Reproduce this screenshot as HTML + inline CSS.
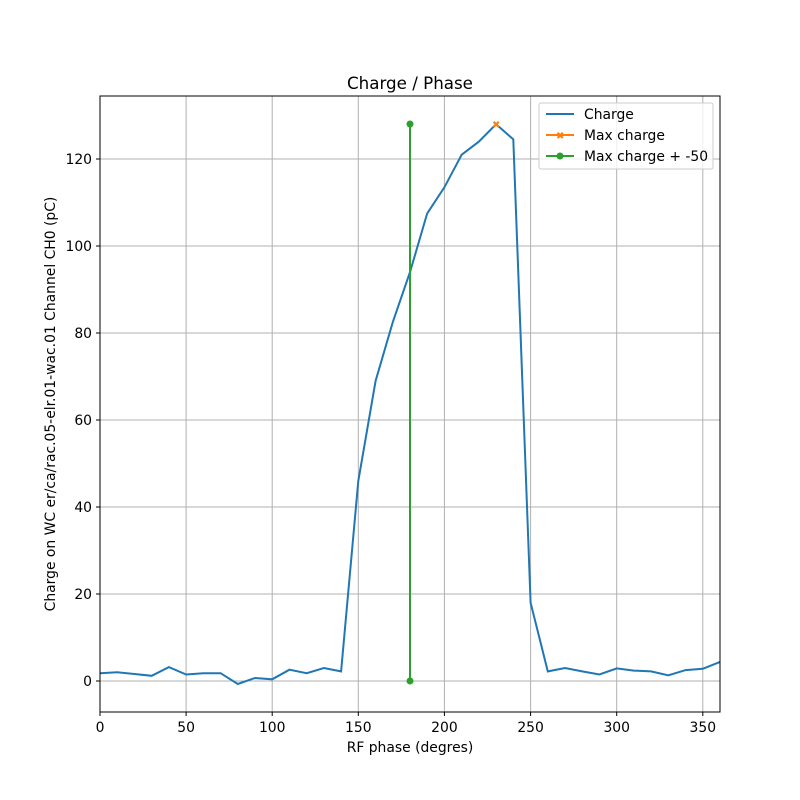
<!DOCTYPE html>
<html><head><meta charset="utf-8"><style>body{margin:0;background:#fff}svg{display:block}text{font-family:"DejaVu Sans","Liberation Sans",sans-serif;fill:#000}</style></head><body>
<svg width="800" height="800" viewBox="0 0 800 800">
<rect width="800" height="800" fill="#fff"/>
<g stroke="#b0b0b0" stroke-width="1">
<line x1="100" y1="96" x2="100" y2="712"/><line x1="186.1" y1="96" x2="186.1" y2="712"/><line x1="272.2" y1="96" x2="272.2" y2="712"/><line x1="358.3" y1="96" x2="358.3" y2="712"/><line x1="444.4" y1="96" x2="444.4" y2="712"/><line x1="530.6" y1="96" x2="530.6" y2="712"/><line x1="616.7" y1="96" x2="616.7" y2="712"/><line x1="702.8" y1="96" x2="702.8" y2="712"/>
<line x1="100" y1="681" x2="720" y2="681"/><line x1="100" y1="594" x2="720" y2="594"/><line x1="100" y1="507" x2="720" y2="507"/><line x1="100" y1="420" x2="720" y2="420"/><line x1="100" y1="333" x2="720" y2="333"/><line x1="100" y1="246" x2="720" y2="246"/><line x1="100" y1="159" x2="720" y2="159"/>
</g>
<polyline fill="none" stroke="#1f77b4" stroke-width="2" points="100,673.2 117.2,672.3 134.4,674 151.7,675.8 168.9,667.1 186.1,674.5 203.3,673.2 220.6,673.2 237.8,684 255,678 272.2,679.3 289.4,669.7 306.7,673.2 323.9,668 341.1,671.4 358.3,480.9 375.6,380.9 392.8,322.1 410,272.1 427.2,213.4 444.4,187.3 461.7,154.7 478.9,141.6 496.1,124.2 513.3,139.4 530.6,602.7 547.8,671.4 565,668 582.2,671.4 599.4,674.5 616.7,668.4 633.9,670.6 651.1,671.4 668.3,675.3 685.6,670.1 702.8,668.8 720,661.9"/>
<text x="492" y="128" font-size="10" style="fill:#ff7f0e">✖</text>
<line x1="410" y1="124" x2="410" y2="681" stroke="#2ca02c" stroke-width="2"/>
<circle cx="410" cy="124" r="3.5" fill="#2ca02c"/><circle cx="410" cy="681" r="3.5" fill="#2ca02c"/>
<rect x="100" y="96" width="620" height="616" fill="none" stroke="#000" stroke-width="1"/>
<g stroke="#000" stroke-width="1">
<line x1="100" y1="712" x2="100" y2="716"/><line x1="186.1" y1="712" x2="186.1" y2="716"/><line x1="272.2" y1="712" x2="272.2" y2="716"/><line x1="358.3" y1="712" x2="358.3" y2="716"/><line x1="444.4" y1="712" x2="444.4" y2="716"/><line x1="530.6" y1="712" x2="530.6" y2="716"/><line x1="616.7" y1="712" x2="616.7" y2="716"/><line x1="702.8" y1="712" x2="702.8" y2="716"/>
<line x1="96" y1="681" x2="100" y2="681"/><line x1="96" y1="594" x2="100" y2="594"/><line x1="96" y1="507" x2="100" y2="507"/><line x1="96" y1="420" x2="100" y2="420"/><line x1="96" y1="333" x2="100" y2="333"/><line x1="96" y1="246" x2="100" y2="246"/><line x1="96" y1="159" x2="100" y2="159"/>
</g>
<g font-size="13.9" text-anchor="middle">
<text x="100" y="732">0</text><text x="186.1" y="732">50</text><text x="272.2" y="732">100</text><text x="358.3" y="732">150</text><text x="444.4" y="732">200</text><text x="530.6" y="732">250</text><text x="616.7" y="732">300</text><text x="702.8" y="732">350</text>
</g>
<g font-size="13.9" text-anchor="end">
<text x="92" y="686">0</text><text x="92" y="599">20</text><text x="92" y="512">40</text><text x="92" y="425">60</text><text x="92" y="338">80</text><text x="92" y="251">100</text><text x="92" y="164">120</text>
</g>
<text x="410" y="752" font-size="13.9" text-anchor="middle">RF phase (degres)</text>
<text transform="translate(55,404) rotate(-90)" font-size="13.9" text-anchor="middle">Charge on WC er/ca/rac.05-elr.01-wac.01 Channel CH0 (pC)</text>
<text x="410" y="89" font-size="16.7" text-anchor="middle">Charge / Phase</text>
<rect x="539" y="103" width="174" height="66" fill="#fff" fill-opacity="0.8" stroke="#ccc" rx="2"/>
<line x1="546" y1="114" x2="574" y2="114" stroke="#1f77b4" stroke-width="2"/>
<text x="584" y="119" font-size="13.9">Charge</text>
<line x1="546" y1="135" x2="574" y2="135" stroke="#ff7f0e" stroke-width="2"/>
<text x="556" y="139" font-size="10" style="fill:#ff7f0e">✖</text>
<text x="584" y="140" font-size="13.9">Max charge</text>
<line x1="546" y1="156" x2="574" y2="156" stroke="#2ca02c" stroke-width="2"/>
<circle cx="560" cy="156" r="3.5" fill="#2ca02c"/>
<text x="584" y="161" font-size="13.9">Max charge + -50</text>
</svg>
</body></html>
